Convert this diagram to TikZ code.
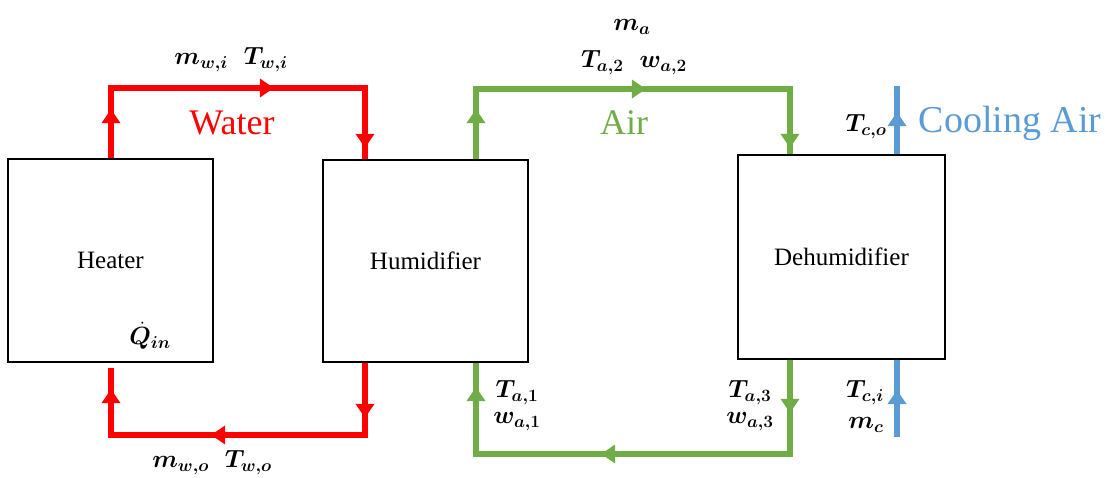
\documentclass[tikz,border=0pt]{standalone}
\usepackage{fontspec}
\setmainfont{Liberation Serif}
\usepackage{bm}
\usetikzlibrary{arrows.meta,decorations.markings}
\definecolor{wred}{RGB}{255,0,0}
\definecolor{agreen}{RGB}{112,173,71}
\definecolor{cblue}{RGB}{91,155,213}
\DeclareMathSizes{23}{23}{17}{13}
\tikzset{
  box/.style={draw, line width=1.8pt, inner sep=0pt, font=\fontsize{25}{28}\selectfont},
  flow/.style={line width=5.5pt},
  fltip/.tip={Triangle[width=18pt,length=14pt]},
  tips/.style n args={3}{postaction={decorate, decoration={markings,
      mark=at position #1 with {\arrow{fltip}},
      mark=at position #2 with {\arrow{fltip}},
      mark=at position #3 with {\arrow{fltip}}}}},
  tipone/.style={postaction={decorate, decoration={markings,
      mark=at position #1 with {\arrow{fltip}}}}},
  lbl/.style={font=\fontsize{23}{26}\selectfont, inner sep=0pt},
  big/.style={font=\fontsize{36}{40}\selectfont, inner sep=0pt},
}
\begin{document}
\begin{tikzpicture}[x=1pt, y=-1pt]
\useasboundingbox (0,0) rectangle (1109,478);
% boxes
\node[box, minimum width=205pt, minimum height=203pt] (heater) at (110.5,260.5) {Heater};
\node[box, minimum width=205pt, minimum height=202pt] (humid) at (425.5,261) {Humidifier};
\node[box, minimum width=207pt, minimum height=204pt] (dehum) at (841.5,257) {Dehumidifier};
% helper coordinates
\coordinate (rx) at (111,0);
\coordinate (hx) at (365,0);
\coordinate (gxa) at (476,0);
\coordinate (gxb) at (790,0);
\coordinate (bx) at (897,0);
\coordinate (rtop) at (0,88);
\coordinate (rbot) at (0,435);
\coordinate (gtop) at (0,89);
\coordinate (gbot) at (0,454);
\coordinate (rend) at (111,368);
\coordinate (btop) at (897,86);
\coordinate (bbot) at (897,437);
% water loop
\draw[flow, wred, tips={49pt}{233pt}{384pt}]
  (heater.north -| rx) -- (rx |- rtop) -- (hx |- rtop) -- (humid.north -| hx);
\draw[flow, wred, tips={55pt}{226pt}{372pt}]
  (humid.south -| hx) -- (hx |- rbot) -- (rx |- rbot) -- (rend);
% air loop
\draw[flow, agreen, tips={50pt}{240pt}{443pt}]
  (humid.north -| gxa) -- (gxa |- gtop) -- (gxb |- gtop) -- (dehum.north -| gxb);
\draw[flow, agreen, tips={53pt}{283pt}{475pt}]
  (dehum.south -| gxb) -- (gxb |- gbot) -- (gxa |- gbot) -- (humid.south -| gxa);
% cooling air
\draw[flow, cblue, tipone=42pt] (dehum.north -| bx) -- (btop);
\draw[flow, cblue, tipone=47pt] (bbot) -- (dehum.south -| bx);
% labels
\node[lbl] (mwi) at (231,60) {$\bm{m_{w,i}}$\hspace{16pt}$\bm{T_{w,i}}$};
\node[big, text=wred] (water) at (232,123) {Water};
\node[lbl] (qin) at (150,336) {$\dot{\bm{Q}}_{\bm{in}}$};
\node[lbl] (mwo) at (212,463) {$\bm{m_{w,o}}$\hspace{16pt}$\bm{T_{w,o}}$};
\node[lbl] (ma) at (632,27) {$\bm{m_a}$};
\node[lbl] (ta2) at (634,63) {$\bm{T_{a,2}}$\hspace{16pt}$\bm{w_{a,2}}$};
\node[big, text=agreen] (air) at (624,123) {Air};
\node[lbl] (tco) at (866,127) {$\bm{T_{c,o}}$};
\node[big, text=cblue, font=\fontsize{38}{42}\selectfont] (cool) at (1010,123) {Cooling Air};
\node[lbl] (ta1) at (517,393) {$\bm{T_{a,1}}$};
\node[lbl] (wa1) at (517,422) {$\bm{w_{a,1}}$};
\node[lbl] (ta3) at (750,393) {$\bm{T_{a,3}}$};
\node[lbl] (wa3) at (750,422) {$\bm{w_{a,3}}$};
\node[lbl] (tci) at (865,393) {$\bm{T_{c,i}}$};
\node[lbl] (mc) at (866,425) {$\bm{m_c}$};
\end{tikzpicture}
\end{document}
